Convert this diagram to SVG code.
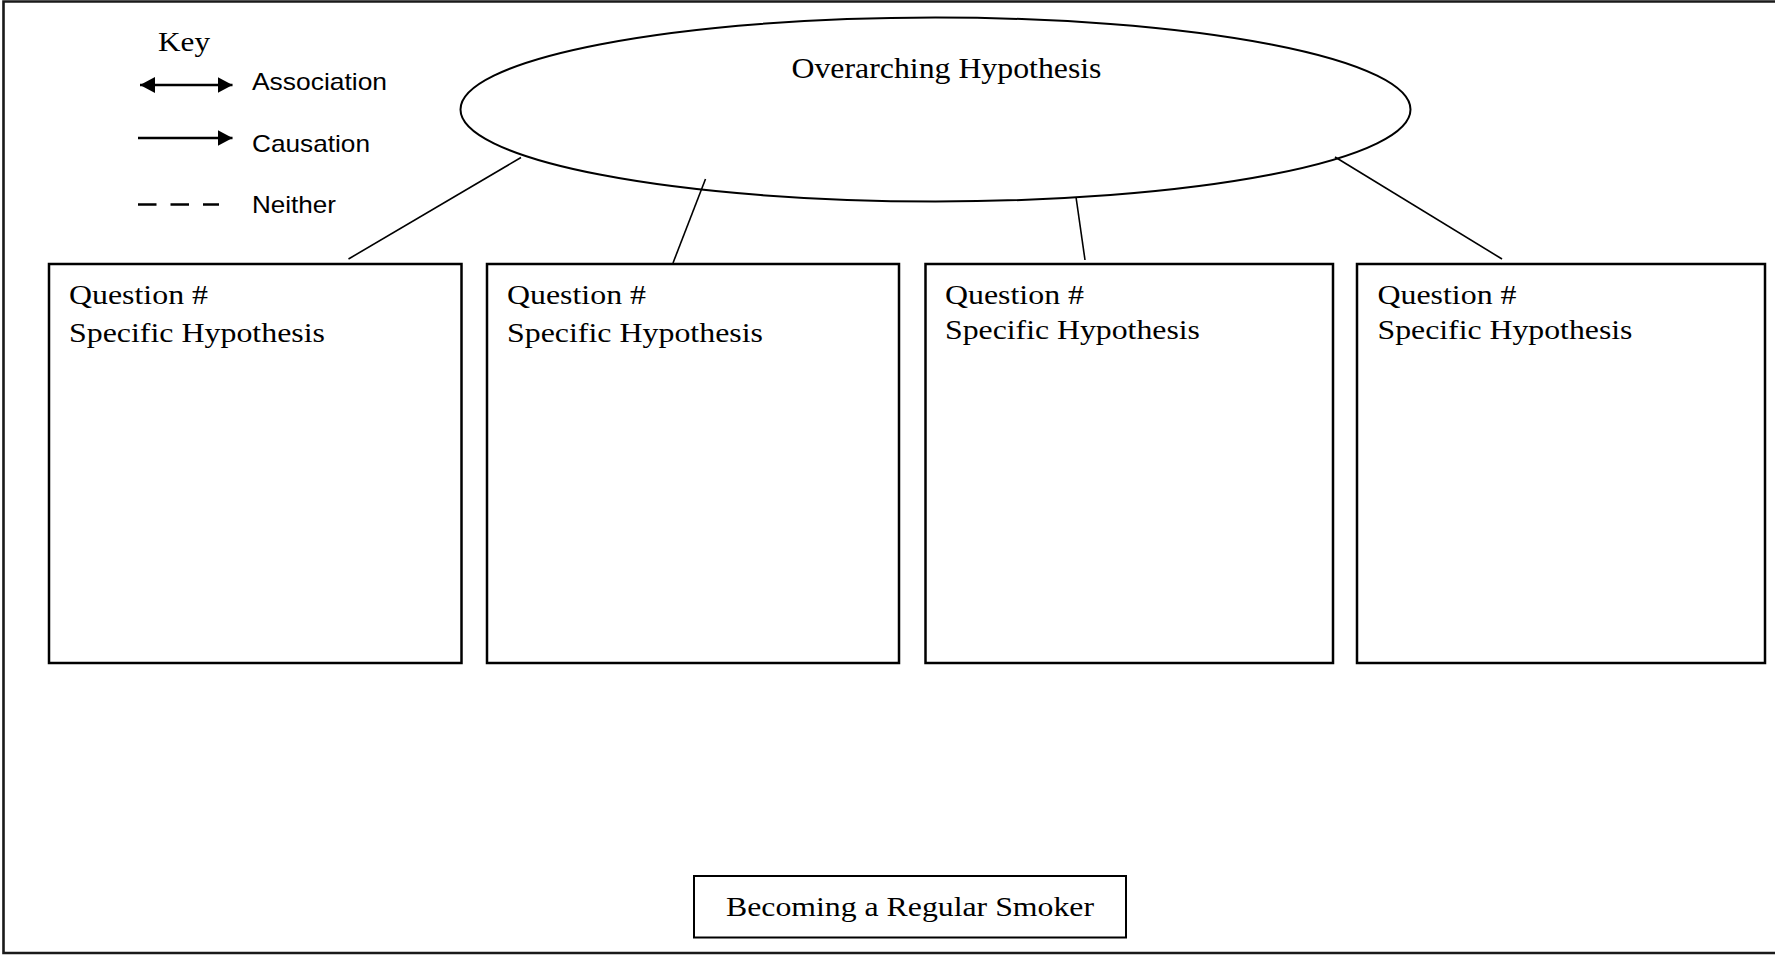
<svg xmlns="http://www.w3.org/2000/svg" width="1775" height="956" viewBox="0 0 1775 956">
  <style>
    .serif { font-family: "Liberation Serif", "Times New Roman", serif; fill: #000; }
    .sans { font-family: "Liberation Sans", Arial, sans-serif; fill: #000; }
    .box { fill: #fff; stroke: #000; stroke-width: 2.5; }
    .link { stroke: #000; stroke-width: 1.6; fill: none; }
    .keyline { stroke: #000; stroke-width: 2.4; fill: none; }
  </style>
  <defs>
    <marker id="head" viewBox="0 0 15 16" refX="15" refY="8" markerWidth="15" markerHeight="16" markerUnits="userSpaceOnUse" orient="auto-start-reverse">
      <polygon points="0,0 15,8 0,16" fill="#000"/>
    </marker>
  </defs>

  <rect x="0" y="0" width="1775" height="956" fill="#fff"/>
  <!-- page frame (open on the right) -->
  <path d="M1775 1.5 H3.5 V953 H1775" fill="none" stroke="#1a1a1a" stroke-width="2.6"/>

  <!-- legend -->
  <g id="key">
    <text class="serif" x="158" y="50.5" font-size="28" textLength="52" lengthAdjust="spacingAndGlyphs">Key</text>
    <line class="keyline" x1="140" y1="85" x2="232.5" y2="85" marker-start="url(#head)" marker-end="url(#head)"/>
    <text class="sans" x="252" y="90" font-size="24" textLength="135" lengthAdjust="spacingAndGlyphs">Association</text>
    <line class="keyline" x1="138" y1="138" x2="232.5" y2="138" marker-end="url(#head)"/>
    <text class="sans" x="252" y="152" font-size="24" textLength="118" lengthAdjust="spacingAndGlyphs">Causation</text>
    <line class="keyline" x1="138" y1="204.5" x2="219" y2="204.5" stroke-width="1.8" stroke-dasharray="18.5 14"/>
    <text class="sans" x="252" y="213" font-size="24" textLength="84" lengthAdjust="spacingAndGlyphs">Neither</text>
  </g>

  <!-- connectors from the overarching hypothesis to each question -->
  <g id="connectors">
    <line class="link" x1="521" y1="157.5" x2="348.5" y2="259"/>
    <line class="link" x1="705.5" y1="179" x2="673" y2="263"/>
    <line class="link" x1="1076" y1="197" x2="1085" y2="260"/>
    <line class="link" x1="1335" y1="157" x2="1502" y2="259"/>
  </g>

  <g id="overarching">
    <ellipse cx="935.5" cy="109.5" rx="475" ry="92" fill="none" stroke="#000" stroke-width="2"/>
    <text class="serif" x="791.5" y="78" font-size="29" textLength="310" lengthAdjust="spacingAndGlyphs">Overarching Hypothesis</text>
  </g>

  <g id="question1">
    <rect class="box" x="49" y="264" width="412.5" height="399"/>
    <text class="serif" x="69" y="304" font-size="28" textLength="139" lengthAdjust="spacingAndGlyphs">Question #</text>
    <text class="serif" x="69" y="342" font-size="28" textLength="256" lengthAdjust="spacingAndGlyphs">Specific Hypothesis</text>
  </g>

  <g id="question2">
    <rect class="box" x="487" y="264" width="412" height="399"/>
    <text class="serif" x="507" y="304" font-size="28" textLength="139" lengthAdjust="spacingAndGlyphs">Question #</text>
    <text class="serif" x="507" y="342" font-size="28" textLength="256" lengthAdjust="spacingAndGlyphs">Specific Hypothesis</text>
  </g>

  <g id="question3">
    <rect class="box" x="925.5" y="264" width="407.5" height="399"/>
    <text class="serif" x="945" y="304" font-size="28" textLength="139" lengthAdjust="spacingAndGlyphs">Question #</text>
    <text class="serif" x="945" y="339" font-size="28" textLength="255" lengthAdjust="spacingAndGlyphs">Specific Hypothesis</text>
  </g>

  <g id="question4">
    <rect class="box" x="1357" y="264" width="408" height="399"/>
    <text class="serif" x="1377.5" y="304" font-size="28" textLength="139" lengthAdjust="spacingAndGlyphs">Question #</text>
    <text class="serif" x="1377.5" y="339" font-size="28" textLength="255" lengthAdjust="spacingAndGlyphs">Specific Hypothesis</text>
  </g>

  <g id="outcome">
    <rect x="694" y="876" width="432" height="61.5" fill="#fff" stroke="#000" stroke-width="2"/>
    <text class="serif" x="726" y="916" font-size="28" textLength="368" lengthAdjust="spacingAndGlyphs">Becoming a Regular Smoker</text>
  </g>
</svg>
